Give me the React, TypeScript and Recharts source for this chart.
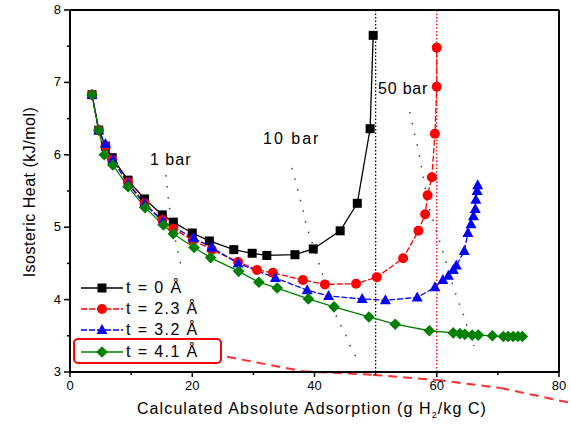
import React from 'react'
import { LineChart, Line, XAxis, YAxis, ReferenceLine, Legend } from 'recharts'

// [adsorption g H2/kg C, isosteric heat kJ/mol]
const t0: [number, number][] = [
  [3.6, 6.83], [4.7, 6.34], [5.8, 6.12], [6.9, 5.96], [9.5, 5.65], [12.2, 5.39], [15.1, 5.17],
  [16.9, 5.07], [20, 4.92], [22.8, 4.81], [26.8, 4.69], [29.8, 4.64], [32.2, 4.61], [36.8, 4.62],
  [39.8, 4.7], [44.2, 4.95], [47, 5.33], [49.1, 6.36], [49.6, 7.65],
]
const t23: [number, number][] = [
  [3.6, 6.83], [4.7, 6.34], [5.8, 6.12], [6.9, 5.93], [9.5, 5.62], [12.2, 5.33], [15.1, 5.1],
  [16.9, 4.98], [20.1, 4.82], [23.2, 4.69], [27.5, 4.52], [30.6, 4.41], [33.2, 4.37], [38.1, 4.27],
  [41.7, 4.21], [46.8, 4.22], [50.2, 4.31], [54.5, 4.57], [57, 4.95], [58.1, 5.18], [58.5, 5.44],
  [59.2, 5.69], [59.7, 6.29], [60, 6.94], [60, 7.48],
]
const t32: [number, number][] = [
  [3.6, 6.83], [4.7, 6.34], [5.8, 6.15], [7, 5.93], [9.5, 5.6], [12.2, 5.32], [15.2, 5.08],
  [20.2, 4.85], [23.2, 4.72], [27.5, 4.5], [33.6, 4.3], [38.8, 4.13], [42.3, 4.05], [47.8, 4.01],
  [51.6, 3.99], [56.8, 4.03], [59.7, 4.17], [61, 4.27], [61.9, 4.33], [62.7, 4.41], [63.2, 4.47],
  [64.5, 4.67], [65.1, 4.92], [65.6, 5.04], [66, 5.15], [66.3, 5.25], [66.4, 5.38], [66.6, 5.5],
  [66.7, 5.58],
]
const t41: [number, number][] = [
  [3.6, 6.83], [4.7, 6.34], [5.6, 6.0], [7, 5.86], [9.5, 5.56], [12.3, 5.27], [15.3, 5.03],
  [16.9, 4.91], [20.3, 4.72], [23, 4.58], [27.6, 4.39], [30.9, 4.24], [33.9, 4.16], [39, 4.01],
  [43.2, 3.9], [48.9, 3.76], [53.2, 3.66], [58.8, 3.57], [62.7, 3.54], [63.8, 3.53], [64.6, 3.52],
  [65.8, 3.51], [66.8, 3.51], [69.1, 3.5], [70.9, 3.49], [71.7, 3.49], [72.5, 3.49], [73.3, 3.49],
  [74, 3.49],
]

// isobars
const bar1: [number, number][] = [[15.7, 5.72], [16.2, 5.3], [17.3, 4.8], [18.3, 4.41]]
const bar10: [number, number][] = [[36.3, 5.82], [38.3, 5.18], [38.6, 5.04], [43.7, 3.74], [45.2, 3.5], [45.8, 3.37], [47.3, 3.12]]
const bar50: [number, number][] = [[55.6, 6.59], [56.6, 6.2], [57, 6.07], [58.6, 5.31], [61.5, 4.53], [62.8, 4.15], [64.5, 3.76], [65, 3.62], [66.1, 3.36]]

// red dashed curve, runs out past the frame
const dashCurve: [number, number][] = [[25.7, 3.21], [38.1, 3.01], [49.6, 2.96], [60, 2.89], [70.4, 2.78], [81.5, 2.58]]

const xTicks = [0, 10, 20, 30, 40, 50, 60, 70, 80]
const yTicks = [3, 3.5, 4, 4.5, 5, 5.5, 6, 6.5, 7, 7.5, 8]

const pts = (a: [number, number][]) => a.map(([x, y]) => ({ x, y }))

const FONT = '"Liberation Sans", Arial, sans-serif'

type Shape = 'square' | 'circle' | 'triangle' | 'diamond'

const Marker = ({ cx, cy, shape, color }: { cx: number; cy: number; shape: Shape; color: string }) => {
  if (shape === 'square') return <rect x={cx - 4.5} y={cy - 4.5} width={9} height={9} fill={color} />
  if (shape === 'circle') return <circle cx={cx} cy={cy} r={5} fill={color} />
  if (shape === 'triangle')
    return <polygon points={`${cx},${cy - 6} ${cx + 5.5},${cy + 4} ${cx - 5.5},${cy + 4}`} fill={color} />
  return <polygon points={`${cx},${cy - 5.8} ${cx + 5.8},${cy} ${cx},${cy + 5.8} ${cx - 5.8},${cy}`} fill={color} />
}

const series = [
  { name: 't = 0 Å', data: t0, color: '#000000', shape: 'square' as Shape, dash: undefined },
  { name: 't = 2.3 Å', data: t23, color: '#ff0000', shape: 'circle' as Shape, dash: '6 2' },
  { name: 't = 3.2 Å', data: t32, color: '#0000ff', shape: 'triangle' as Shape, dash: '6 2' },
  { name: 't = 4.1 Å', data: t41, color: '#008000', shape: 'diamond' as Shape, dash: undefined },
]

const BottomTick = (props: any) => {
  const { x, y, payload } = props
  const major = payload.value % 20 === 0
  return (
    <g>
      <line x1={x} x2={x} y1={y} y2={y + (major ? 5 : 3)} stroke="#000" strokeWidth={1.5} />
      {major && (
        <text x={x} y={y + 18} textAnchor="middle" fontSize={13} fontFamily={FONT} fill="#000">
          {payload.value}
        </text>
      )}
    </g>
  )
}

const LeftTick = (props: any) => {
  const { x, y, payload } = props
  const major = Number.isInteger(payload.value)
  return (
    <g>
      <line x1={x - (major ? 6 : 3)} x2={x} y1={y} y2={y} stroke="#000" strokeWidth={1.5} />
      {major && (
        <text x={x - 9} y={y + 4} textAnchor="end" fontSize={13} fontFamily={FONT} fill="#000">
          {payload.value}
        </text>
      )}
    </g>
  )
}

const TopTick = (props: any) => {
  const { x, y } = props
  return <line x1={x} x2={x} y1={y} y2={y + 5} stroke="#000" strokeWidth={1.5} />
}

const RightTick = (props: any) => {
  const { x, y } = props
  return <line x1={x - 6} x2={x} y1={y} y2={y} stroke="#000" strokeWidth={1.5} />
}

const renderLegend = () => (
  <div style={{ position: 'relative', width: 150, fontFamily: FONT, fontSize: 16, letterSpacing: 1.4 }}>
    {series.map((s, i) => (
      <div key={s.name} style={{ position: 'absolute', left: 0, top: [0, 21, 42, 64][i], height: 20, display: 'flex', alignItems: 'center' }}>
        <svg width={44} height={14} style={{ marginLeft: 8 }}>
          <line x1={0} x2={42} y1={7} y2={7} stroke={s.color} strokeWidth={1.5} strokeDasharray={s.dash} />
          <Marker cx={21} cy={7} shape={s.shape} color={s.color} />
        </svg>
        <span style={{ marginLeft: 1, whiteSpace: 'nowrap' }}>{s.name}</span>
      </div>
    ))}
    <div
      style={{
        position: 'absolute', left: 0, top: 60, width: 145, height: 22,
        border: '2px solid #ff0000', borderRadius: 5, background: 'transparent',
      }}
    />
  </div>
)

const annot = (text: string, left: number, top: number, spacing: number) => (
  <div
    style={{
      position: 'absolute', left, top, fontFamily: FONT, fontSize: 16, lineHeight: '18px',
      letterSpacing: spacing, whiteSpace: 'nowrap',
    }}
  >
    {text}
  </div>
)

export default function App() {
  return (
    <div style={{ position: 'absolute', left: 0, top: 0, width: 571, height: 424, background: '#fff' }}>
      <LineChart width={571} height={424} margin={{ top: 9, right: 11, bottom: 22, left: 30 }}>
        <XAxis
          dataKey="x" type="number" domain={[0, 80]} ticks={xTicks} interval={0}
          tickSize={0} tickMargin={0} tickLine={false} tick={<BottomTick />}
          axisLine={{ stroke: '#000', strokeWidth: 2 }} height={30}
        />
        <XAxis
          xAxisId="top" orientation="top" dataKey="x" type="number" domain={[0, 80]} ticks={xTicks} interval={0}
          tickSize={0} tickMargin={0} tickLine={false} tick={<TopTick />}
          axisLine={{ stroke: '#000', strokeWidth: 2 }} height={1}
        />
        <YAxis
          type="number" domain={[3, 8]} ticks={yTicks} interval={0}
          tickSize={0} tickMargin={0} tickLine={false} tick={<LeftTick />}
          axisLine={{ stroke: '#000', strokeWidth: 2 }} width={40}
        />
        <YAxis
          yAxisId="right" orientation="right" type="number" domain={[3, 8]} ticks={yTicks} interval={0}
          tickSize={0} tickMargin={0} tickLine={false} tick={<RightTick />}
          axisLine={{ stroke: '#000', strokeWidth: 2 }} width={1}
        />

        <ReferenceLine x={50} stroke="#000" strokeWidth={1.3} strokeDasharray="1.5 2" />
        <ReferenceLine x={60} stroke="#ff0000" strokeWidth={1.3} strokeDasharray="1.5 2" />

        {dashCurve.slice(1).map((p, i) => (
          <ReferenceLine
            key={i}
            segment={[{ x: dashCurve[i][0], y: dashCurve[i][1] }, { x: p[0], y: p[1] }]}
            ifOverflow="visible"
            stroke="#ff3030"
            strokeWidth={2}
            strokeDasharray="9 6"
          />
        ))}

        {[bar1, bar10, bar50].map((b, i) => (
          <Line
            key={'bar' + i}
            data={pts(b)}
            dataKey="y"
            stroke="#444"
            strokeWidth={1.5}
            strokeDasharray="1.5 9.5"
            dot={false}
            activeDot={false}
            isAnimationActive={false}
            legendType="none"
          />
        ))}

        {series.map((s) => (
          <Line
            key={s.name}
            name={s.name}
            data={pts(s.data)}
            dataKey="y"
            stroke={s.color}
            strokeWidth={1.3}
            strokeDasharray={s.dash}
            dot={(p: any) => <Marker key={p.index} cx={p.cx} cy={p.cy} shape={s.shape} color={s.color} />}
            activeDot={false}
            isAnimationActive={false}
          />
        ))}

        <Legend
          layout="vertical"
          align="center"
          verticalAlign="middle"
          content={renderLegend}
          wrapperStyle={{ left: 73, top: 278, width: 150, height: 86 }}
        />
      </LineChart>

      {annot('1 bar', 150, 151, 1)}
      {annot('10 bar', 263, 130, 2)}
      {annot('50 bar', 378, 80, 0.8)}

      <div
        style={{
          position: 'absolute', left: 62, width: 500, top: 400, textAlign: 'center',
          fontFamily: FONT, fontSize: 16, lineHeight: '18px', letterSpacing: 1.1, whiteSpace: 'nowrap',
        }}
      >
        Calculated Absolute Adsorption (g H<sub style={{ fontSize: 9 }}>2</sub>/kg C)
      </div>
      <div
        style={{
          position: 'absolute', left: 30 - 120, top: 192 - 9, width: 240, textAlign: 'center',
          transform: 'rotate(-90deg)', fontFamily: FONT, fontSize: 16, lineHeight: '18px',
          letterSpacing: 0.5, whiteSpace: 'nowrap',
        }}
      >
        Isosteric Heat (kJ/mol)
      </div>
    </div>
  )
}
